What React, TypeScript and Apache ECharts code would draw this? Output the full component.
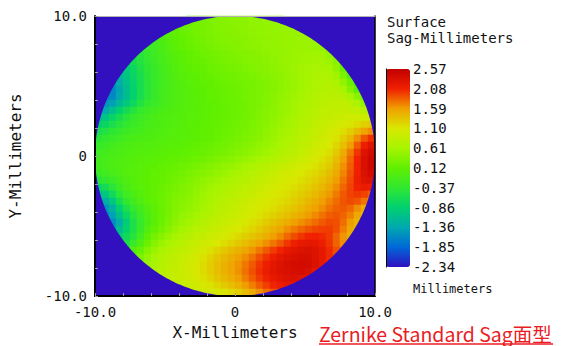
import React, { useEffect, useRef } from "react";
import * as echarts from "echarts";

const SAG_MIN = -2.34;
const SAG_MAX = 2.57;
const legendLabels = ["-2.34", "-1.85", "-1.36", "-0.86", "-0.37", "0.12", "0.61", "1.10", "1.59", "2.08", "2.57"];
const axisLabelText: Record<string, string> = { "-10": "-10.0", "0": "0", "10": "10.0" };
const colorStops = ["#3010c0", "#0068d8", "#00a8b0", "#00d070", "#30e830", "#60f000", "#a8f400", "#d8e800", "#f0a000", "#f02000", "#c00000"];
const outsideColor = "#3210bf";

// Sag values (mm) read from the map, one row per 0.5 mm band from top (y=+9.75) to bottom (y=-9.75),
// each row listing the cells inside the aperture from left to right.
const sagRows: number[][] = [
  [0.2, 0.24, 0.28, 0.31, 0.35, 0.37, 0.39, 0.41, 0.42, 0.44, 0.45, 0.46, 0.47, 0.48],
  [0.1, 0.17, 0.21, 0.25, 0.28, 0.31, 0.34, 0.37, 0.39, 0.41, 0.42, 0.44, 0.45, 0.46, 0.47, 0.48, 0.49, 0.5],
  [-0.05, 0.03, 0.1, 0.16, 0.2, 0.24, 0.27, 0.3, 0.33, 0.36, 0.38, 0.4, 0.41, 0.43, 0.44, 0.46, 0.47, 0.48, 0.49, 0.5, 0.5, 0.5],
  [-0.2, -0.1, 0.0, 0.07, 0.13, 0.18, 0.22, 0.25, 0.29, 0.32, 0.34, 0.36, 0.38, 0.4, 0.42, 0.43, 0.45, 0.46, 0.48, 0.49, 0.5, 0.51, 0.51, 0.48],
  [-0.45, -0.32, -0.21, -0.11, -0.02, 0.05, 0.11, 0.16, 0.2, 0.23, 0.27, 0.29, 0.32, 0.34, 0.36, 0.39, 0.41, 0.42, 0.44, 0.46, 0.48, 0.49, 0.51, 0.52, 0.52, 0.5, 0.45, 0.38],
  [-0.6, -0.45, -0.34, -0.24, -0.14, -0.05, 0.02, 0.08, 0.12, 0.16, 0.2, 0.23, 0.26, 0.29, 0.31, 0.33, 0.35, 0.38, 0.4, 0.42, 0.45, 0.47, 0.49, 0.51, 0.53, 0.55, 0.56, 0.55, 0.45, 0.3],
  [-0.85, -0.65, -0.5, -0.38, -0.26, -0.16, -0.07, 0.0, 0.06, 0.1, 0.14, 0.17, 0.21, 0.24, 0.27, 0.29, 0.31, 0.34, 0.36, 0.38, 0.41, 0.43, 0.46, 0.49, 0.52, 0.54, 0.56, 0.58, 0.58, 0.52, 0.4, 0.2],
  [-0.95, -0.75, -0.55, -0.42, -0.3, -0.19, -0.1, -0.03, 0.03, 0.07, 0.11, 0.14, 0.18, 0.21, 0.23, 0.26, 0.28, 0.31, 0.33, 0.36, 0.39, 0.42, 0.45, 0.49, 0.53, 0.57, 0.6, 0.62, 0.63, 0.6, 0.45, 0.15],
  [-1.2, -1.0, -0.78, -0.6, -0.44, -0.3, -0.2, -0.11, -0.04, 0.02, 0.06, 0.09, 0.13, 0.16, 0.19, 0.21, 0.23, 0.25, 0.28, 0.3, 0.33, 0.36, 0.4, 0.43, 0.47, 0.52, 0.56, 0.6, 0.64, 0.66, 0.65, 0.55, 0.3, 0.0],
  [-1.5, -1.3, -1.05, -0.82, -0.62, -0.45, -0.32, -0.21, -0.12, -0.06, -0.01, 0.03, 0.06, 0.1, 0.13, 0.16, 0.18, 0.21, 0.23, 0.25, 0.27, 0.3, 0.33, 0.37, 0.41, 0.46, 0.51, 0.56, 0.61, 0.66, 0.69, 0.7, 0.65, 0.45, 0.2, -0.1],
  [-1.6, -1.38, -1.1, -0.84, -0.62, -0.45, -0.3, -0.2, -0.12, -0.06, -0.02, 0.02, 0.05, 0.08, 0.12, 0.14, 0.17, 0.19, 0.21, 0.24, 0.27, 0.3, 0.33, 0.37, 0.42, 0.47, 0.52, 0.57, 0.62, 0.67, 0.71, 0.74, 0.72, 0.6, 0.35, 0.05],
  [-1.65, -1.6, -1.35, -1.1, -0.84, -0.62, -0.45, -0.31, -0.2, -0.12, -0.06, -0.02, 0.02, 0.05, 0.08, 0.11, 0.13, 0.16, 0.18, 0.21, 0.24, 0.27, 0.3, 0.34, 0.39, 0.44, 0.49, 0.54, 0.6, 0.65, 0.7, 0.74, 0.77, 0.78, 0.72, 0.6, 0.4, 0.2],
  [-1.5, -1.42, -1.17, -0.94, -0.72, -0.52, -0.37, -0.26, -0.17, -0.11, -0.06, -0.02, 0.01, 0.05, 0.08, 0.1, 0.13, 0.15, 0.18, 0.2, 0.23, 0.27, 0.31, 0.35, 0.4, 0.46, 0.51, 0.57, 0.62, 0.68, 0.73, 0.78, 0.81, 0.83, 0.84, 0.78, 0.65, 0.45],
  [-1.4, -1.35, -1.1, -0.86, -0.66, -0.49, -0.35, -0.25, -0.17, -0.12, -0.07, -0.04, -0.01, 0.02, 0.04, 0.07, 0.09, 0.12, 0.14, 0.17, 0.2, 0.23, 0.27, 0.32, 0.36, 0.41, 0.47, 0.52, 0.58, 0.64, 0.7, 0.76, 0.81, 0.84, 0.87, 0.88, 0.86, 0.84, 0.75, 0.65],
  [-1.12, -1.02, -0.8, -0.63, -0.47, -0.34, -0.24, -0.17, -0.12, -0.08, -0.05, -0.03, 0.0, 0.03, 0.05, 0.08, 0.1, 0.13, 0.15, 0.18, 0.21, 0.24, 0.28, 0.33, 0.38, 0.43, 0.49, 0.55, 0.61, 0.67, 0.73, 0.79, 0.84, 0.88, 0.91, 0.94, 0.96, 0.97, 0.95, 0.9],
  [-0.85, -0.76, -0.6, -0.47, -0.36, -0.27, -0.2, -0.14, -0.1, -0.07, -0.04, -0.02, 0.01, 0.04, 0.06, 0.09, 0.11, 0.14, 0.17, 0.2, 0.23, 0.26, 0.3, 0.35, 0.4, 0.46, 0.52, 0.57, 0.63, 0.7, 0.76, 0.83, 0.89, 0.94, 1.0, 1.06, 1.12, 1.19, 1.26, 1.3],
  [-0.61, -0.52, -0.42, -0.34, -0.26, -0.2, -0.15, -0.11, -0.08, -0.05, -0.02, 0.0, 0.02, 0.05, 0.07, 0.1, 0.12, 0.15, 0.18, 0.21, 0.25, 0.28, 0.32, 0.37, 0.43, 0.49, 0.55, 0.61, 0.67, 0.74, 0.8, 0.87, 0.93, 1.0, 1.07, 1.16, 1.27, 1.42, 1.56, 1.66],
  [-0.45, -0.37, -0.29, -0.22, -0.16, -0.12, -0.09, -0.07, -0.05, -0.02, 0.0, 0.01, 0.03, 0.05, 0.08, 0.1, 0.13, 0.16, 0.2, 0.23, 0.27, 0.31, 0.35, 0.4, 0.46, 0.52, 0.58, 0.64, 0.7, 0.77, 0.83, 0.9, 0.97, 1.04, 1.14, 1.27, 1.44, 1.66, 1.87, 2.02],
  [-0.32, -0.25, -0.18, -0.13, -0.09, -0.06, -0.04, -0.03, -0.01, 0.01, 0.03, 0.04, 0.06, 0.08, 0.11, 0.14, 0.17, 0.2, 0.23, 0.27, 0.31, 0.35, 0.4, 0.45, 0.5, 0.56, 0.62, 0.69, 0.75, 0.82, 0.88, 0.95, 1.02, 1.1, 1.22, 1.38, 1.59, 1.85, 2.1, 2.28],
  [-0.22, -0.17, -0.12, -0.09, -0.06, -0.03, -0.01, 0.0, 0.02, 0.04, 0.06, 0.07, 0.09, 0.12, 0.14, 0.17, 0.21, 0.24, 0.28, 0.32, 0.36, 0.4, 0.45, 0.5, 0.55, 0.61, 0.67, 0.74, 0.8, 0.87, 0.93, 1.0, 1.08, 1.17, 1.3, 1.49, 1.73, 2.0, 2.26, 2.4],
  [-0.18, -0.13, -0.09, -0.06, -0.03, 0.0, 0.02, 0.03, 0.05, 0.07, 0.09, 0.12, 0.14, 0.17, 0.2, 0.23, 0.27, 0.31, 0.35, 0.39, 0.44, 0.49, 0.54, 0.59, 0.64, 0.7, 0.76, 0.82, 0.88, 0.94, 1.0, 1.07, 1.15, 1.24, 1.39, 1.58, 1.81, 2.07, 2.33, 2.47],
  [-0.18, -0.13, -0.08, -0.05, -0.02, 0.01, 0.03, 0.06, 0.08, 0.11, 0.14, 0.16, 0.2, 0.23, 0.27, 0.31, 0.35, 0.4, 0.44, 0.49, 0.54, 0.59, 0.65, 0.7, 0.75, 0.81, 0.87, 0.92, 0.98, 1.03, 1.09, 1.14, 1.22, 1.31, 1.45, 1.64, 1.85, 2.08, 2.33, 2.46],
  [-0.27, -0.21, -0.14, -0.08, -0.02, 0.01, 0.05, 0.08, 0.11, 0.13, 0.17, 0.2, 0.24, 0.29, 0.33, 0.38, 0.42, 0.47, 0.52, 0.57, 0.63, 0.68, 0.74, 0.79, 0.85, 0.9, 0.96, 1.0, 1.06, 1.1, 1.16, 1.21, 1.29, 1.39, 1.52, 1.69, 1.88, 2.09, 2.3, 2.4],
  [-0.45, -0.37, -0.27, -0.15, -0.06, 0.0, 0.05, 0.08, 0.12, 0.15, 0.19, 0.24, 0.29, 0.33, 0.39, 0.44, 0.49, 0.54, 0.6, 0.64, 0.7, 0.75, 0.81, 0.86, 0.92, 0.97, 1.02, 1.07, 1.11, 1.16, 1.22, 1.28, 1.36, 1.46, 1.59, 1.75, 1.92, 2.11, 2.27, 2.3],
  [-0.78, -0.66, -0.45, -0.26, -0.12, -0.03, 0.03, 0.08, 0.12, 0.17, 0.22, 0.27, 0.32, 0.37, 0.43, 0.49, 0.55, 0.6, 0.65, 0.7, 0.76, 0.82, 0.88, 0.93, 0.98, 1.03, 1.07, 1.12, 1.17, 1.22, 1.28, 1.35, 1.44, 1.54, 1.66, 1.81, 1.95, 2.08, 2.15, 2.12],
  [-1.13, -1.0, -0.71, -0.43, -0.22, -0.1, 0.0, 0.07, 0.13, 0.18, 0.24, 0.3, 0.35, 0.4, 0.46, 0.53, 0.59, 0.65, 0.7, 0.75, 0.81, 0.87, 0.93, 0.98, 1.03, 1.08, 1.12, 1.17, 1.23, 1.29, 1.35, 1.42, 1.51, 1.61, 1.73, 1.86, 1.95, 1.99, 1.95, 1.85],
  [-1.4, -1.28, -0.98, -0.63, -0.37, -0.2, -0.06, 0.03, 0.12, 0.18, 0.26, 0.33, 0.38, 0.43, 0.49, 0.56, 0.63, 0.7, 0.76, 0.81, 0.86, 0.92, 0.98, 1.03, 1.08, 1.13, 1.17, 1.22, 1.28, 1.35, 1.43, 1.5, 1.59, 1.69, 1.79, 1.88, 1.92, 1.88, 1.75, 1.6],
  [-1.5, -1.25, -0.88, -0.57, -0.35, -0.17, -0.04, 0.08, 0.17, 0.26, 0.34, 0.41, 0.46, 0.52, 0.6, 0.67, 0.74, 0.8, 0.86, 0.91, 0.97, 1.03, 1.08, 1.13, 1.17, 1.23, 1.29, 1.35, 1.42, 1.5, 1.57, 1.66, 1.76, 1.83, 1.86, 1.8, 1.66, 1.5],
  [-1.62, -1.42, -1.06, -0.75, -0.47, -0.25, -0.09, 0.05, 0.16, 0.27, 0.37, 0.46, 0.51, 0.58, 0.65, 0.72, 0.79, 0.86, 0.9, 0.96, 1.02, 1.08, 1.14, 1.2, 1.26, 1.32, 1.38, 1.45, 1.52, 1.6, 1.67, 1.76, 1.85, 1.87, 1.82, 1.71, 1.53, 1.42],
  [-1.58, -1.3, -0.9, -0.57, -0.31, -0.1, 0.06, 0.18, 0.3, 0.42, 0.51, 0.58, 0.65, 0.72, 0.79, 0.85, 0.91, 0.96, 1.02, 1.09, 1.16, 1.22, 1.29, 1.36, 1.43, 1.5, 1.58, 1.65, 1.72, 1.79, 1.86, 1.92, 1.9, 1.78, 1.6, 1.45],
  [-1.45, -1.15, -0.85, -0.56, -0.29, -0.06, 0.12, 0.25, 0.37, 0.49, 0.59, 0.66, 0.74, 0.8, 0.86, 0.91, 0.97, 1.04, 1.1, 1.17, 1.24, 1.31, 1.39, 1.47, 1.55, 1.65, 1.73, 1.81, 1.88, 1.93, 1.96, 1.97, 1.9, 1.72, 1.55, 1.45],
  [-0.95, -0.7, -0.47, -0.2, 0.06, 0.25, 0.38, 0.5, 0.6, 0.69, 0.76, 0.83, 0.88, 0.94, 1.0, 1.06, 1.13, 1.2, 1.27, 1.34, 1.41, 1.49, 1.58, 1.68, 1.8, 1.91, 2.0, 2.06, 2.08, 2.05, 1.98, 1.82, 1.63, 1.5],
  [-0.55, -0.3, -0.06, 0.18, 0.37, 0.5, 0.61, 0.7, 0.78, 0.84, 0.91, 0.97, 1.03, 1.1, 1.17, 1.24, 1.32, 1.39, 1.47, 1.56, 1.65, 1.75, 1.86, 1.99, 2.1, 2.17, 2.2, 2.18, 2.11, 2.0, 1.82, 1.65],
  [-0.2, -0.02, 0.14, 0.34, 0.5, 0.61, 0.71, 0.78, 0.84, 0.9, 0.97, 1.06, 1.15, 1.24, 1.32, 1.4, 1.47, 1.54, 1.63, 1.74, 1.86, 1.97, 2.07, 2.18, 2.25, 2.3, 2.32, 2.28, 2.18, 2.05, 1.9, 1.75],
  [0.1, 0.3, 0.46, 0.59, 0.69, 0.77, 0.83, 0.89, 0.95, 1.03, 1.13, 1.23, 1.33, 1.42, 1.49, 1.57, 1.66, 1.76, 1.89, 2.01, 2.12, 2.22, 2.28, 2.33, 2.36, 2.35, 2.28, 2.18, 2.05, 1.9],
  [0.4, 0.51, 0.63, 0.73, 0.81, 0.86, 0.92, 1.0, 1.08, 1.18, 1.28, 1.38, 1.47, 1.54, 1.63, 1.74, 1.86, 1.99, 2.1, 2.2, 2.28, 2.34, 2.38, 2.4, 2.38, 2.3, 2.18, 2.08],
  [0.67, 0.76, 0.83, 0.88, 0.94, 1.0, 1.09, 1.18, 1.28, 1.38, 1.47, 1.54, 1.64, 1.77, 1.89, 2.02, 2.13, 2.22, 2.29, 2.33, 2.36, 2.37, 2.32, 2.22],
  [0.82, 0.86, 0.89, 0.93, 0.98, 1.05, 1.14, 1.23, 1.33, 1.42, 1.49, 1.59, 1.72, 1.84, 1.97, 2.07, 2.17, 2.24, 2.28, 2.29, 2.27, 2.22],
  [0.88, 0.9, 0.95, 1.0, 1.07, 1.14, 1.22, 1.3, 1.38, 1.47, 1.6, 1.72, 1.85, 1.96, 2.06, 2.13, 2.18, 2.2],
  [0.9, 0.93, 0.97, 1.02, 1.07, 1.12, 1.19, 1.28, 1.4, 1.52, 1.65, 1.78, 1.88, 1.95],
];

const MONO = '"DejaVu Sans Mono", monospace';
const TITLE_FONT = '"Noto Sans CJK SC", "Noto Sans", sans-serif';

export default function App() {
  const ref = useRef<HTMLDivElement>(null);

  useEffect(() => {
    document.body.style.margin = "0";
    const chart = echarts.init(ref.current!, null, { renderer: "svg" });
    const n = sagRows.length;
    const cats = Array.from({ length: n }, (_, i) => String(i));
    const data: number[][] = [];
    sagRows.forEach((row, i) => {
      const off = (n - row.length) / 2;
      row.forEach((v, k) => data.push([off + k, n - 1 - i, v]));
    });
    const fmt = (v: number) => axisLabelText[String(v)] ?? "";

    const texts: any[] = [
      { id: "t1", type: "text", x: 387, y: 22, z: 20, style: { text: "Surface", font: `14px ${MONO}`, fill: "#111", verticalAlign: "middle" } },
      { id: "t2", type: "text", x: 387, y: 38, z: 20, style: { text: "Sag-Millimeters", font: `14px ${MONO}`, fill: "#111", verticalAlign: "middle" } },
      { id: "t3", type: "text", x: 413, y: 289, z: 20, style: { text: "Millimeters", font: `12px ${MONO}`, fill: "#111", verticalAlign: "middle" } },
      { id: "t4", type: "text", x: 235, y: 332, z: 20, style: { text: "X-Millimeters", font: `16px ${MONO}`, fill: "#111", align: "center", verticalAlign: "middle" } },
      { id: "t5", type: "text", x: 15, y: 156, rotation: Math.PI / 2, z: 20, style: { text: "Y-Millimeters", font: `16px ${MONO}`, fill: "#111", align: "center", verticalAlign: "middle" } },
      { id: "t6", type: "text", x: 319, y: 333, z: 20, style: { text: "Zernike Standard Sag面型", font: `19.5px ${TITLE_FONT}`, lineHeight: 20, fill: "#ea1c24", verticalAlign: "middle" } },
      { id: "t7", type: "line", z: 20, shape: { x1: 319, y1: 344, x2: 553, y2: 344 }, style: { stroke: "#ea1c24", lineWidth: 1.5 } },
    ];

    const option: any = {
      animation: false,
      backgroundColor: "#ffffff",
      grid: [
        { left: 95, top: 16, width: 280, height: 280, show: true, backgroundColor: outsideColor, borderWidth: 0 },
        { left: 386, top: 69, width: 24, height: 198 },
      ],
      xAxis: [
        { type: "category", data: cats, gridIndex: 0, show: false },
        {
          type: "value", gridIndex: 0, min: -10, max: 10, interval: 2, position: "bottom", z: 10,
          axisLine: { onZero: false, lineStyle: { color: "#000", width: 2 } },
          axisTick: { inside: true, length: 3, lineStyle: { color: "#999" } },
          axisLabel: { formatter: fmt, margin: 9, fontFamily: MONO, fontSize: 14, color: "#111", showMinLabel: true, showMaxLabel: true },
          splitLine: { show: false },
        },
        {
          type: "value", gridIndex: 0, min: -10, max: 10, position: "top", z: 10,
          axisLine: { onZero: false, lineStyle: { color: "#b4b4b4", width: 1 } },
          axisTick: { show: false }, axisLabel: { show: false }, splitLine: { show: false },
        },
        { type: "value", gridIndex: 1, show: false },
      ],
      yAxis: [
        { type: "category", data: cats, gridIndex: 0, show: false },
        {
          type: "value", gridIndex: 0, min: -10, max: 10, interval: 2, position: "left", z: 10,
          axisLine: { onZero: false, lineStyle: { color: "#000", width: 2 } },
          axisTick: { inside: true, length: 3, lineStyle: { color: "#999" } },
          axisLabel: { formatter: fmt, margin: 8, fontFamily: MONO, fontSize: 14, color: "#111", showMinLabel: true, showMaxLabel: true },
          splitLine: { show: false },
        },
        {
          type: "value", gridIndex: 0, min: -10, max: 10, position: "right", z: 10,
          axisLine: { onZero: false, lineStyle: { color: "#000", width: 1.5 } },
          axisTick: { show: false }, axisLabel: { show: false }, splitLine: { show: false },
        },
        {
          type: "category", gridIndex: 1, data: legendLabels, boundaryGap: false, position: "right", z: 10,
          axisLine: { lineStyle: { color: "#000", width: 1 } },
          axisTick: { show: false },
          axisLabel: { interval: 0, margin: 3, fontFamily: MONO, fontSize: 14, color: "#111" },
          splitLine: { show: false },
        },
      ],
      visualMap: {
        type: "continuous", min: SAG_MIN, max: SAG_MAX, seriesIndex: 0,
        left: 386, top: 69, itemWidth: 24, itemHeight: 198, padding: 0,
        calculable: false, hoverLink: false, text: null,
        inRange: { color: colorStops },
      },
      series: [
        {
          type: "heatmap", xAxisIndex: 0, yAxisIndex: 0, data, progressive: 0,
          emphasis: { disabled: true }, itemStyle: { borderWidth: 0 },
        },
      ],
      graphic: texts,
    };
    chart.setOption(option);

    // Aperture mask: everything inside the plot square but outside the 10 mm circle.
    const toPx = (x: number, y: number) => chart.convertToPixel({ xAxisIndex: 1, yAxisIndex: 1 } as any, [x, y]) as number[];
    const pts: number[][] = [toPx(-10, 0), toPx(-10, 10), toPx(10, 10), toPx(10, -10), toPx(-10, -10), toPx(-10, 0)];
    for (let a = 180; a <= 540; a += 1) {
      const t = (a * Math.PI) / 180;
      pts.push(toPx(10 * Math.cos(t), 10 * Math.sin(t)));
    }
    chart.setOption({
      graphic: [
        ...texts,
        { id: "mask", type: "polygon", z: 5, silent: true, shape: { points: pts }, style: { fill: outsideColor } },
      ],
    });

    return () => chart.dispose();
  }, []);

  return <div ref={ref} style={{ width: 570, height: 346 }} />;
}
